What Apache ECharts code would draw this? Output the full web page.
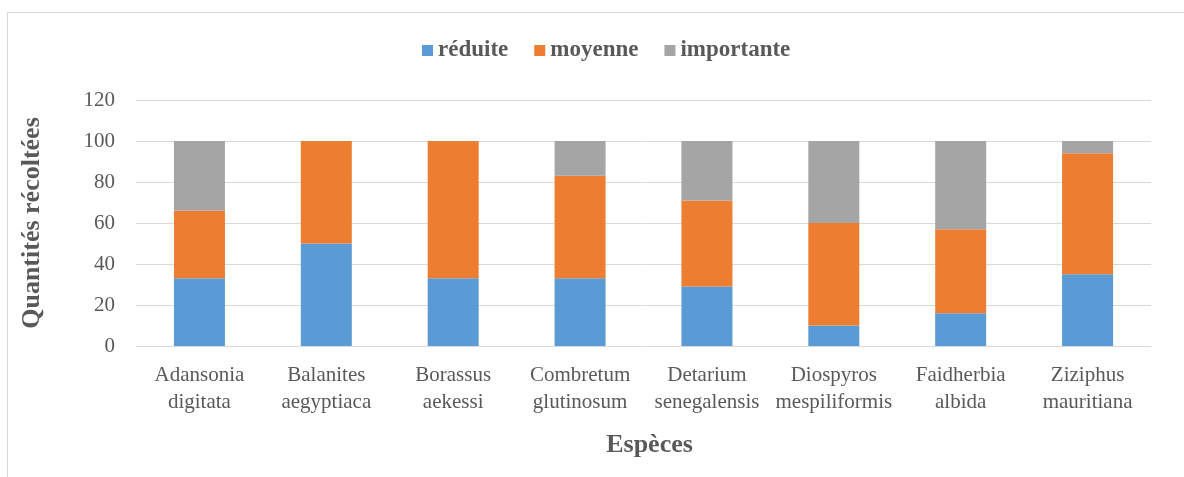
<!DOCTYPE html>
<html>
<head>
<meta charset="utf-8">
<script src="https://cdn.jsdelivr.net/npm/echarts@6/dist/echarts.min.js"></script>
<style>
  html, body { margin: 0; padding: 0; background: #fff; }
  #frame { position: absolute; left: 7px; top: 12px; width: 1190px; height: 480px; border: 1px solid #d9d9d9; box-sizing: border-box; }
  #chart { position: absolute; left: 0; top: 0; width: 1184px; height: 477px; }
</style>
</head>
<body>
<div id="frame"></div>
<div id="chart"></div>
<script>
// species on the x axis
var categories = ["Adansonia\ndigitata", "Balanites\naegyptiaca", "Borassus\naekessi", "Combretum\nglutinosum",
    "Detarium\nsenegalensis", "Diospyros\nmespiliformis", "Faidherbia\nalbida", "Ziziphus\nmauritiana"];
var reduite = [33, 50, 33, 33, 29, 10, 16, 35];
var moyenne = [33, 50, 67, 50, 42, 50, 41, 59];
var importante = [34, 0, 0, 17, 29, 40, 43, 6];
var yTicks = [0, 20, 40, 60, 80, 100, 120];

var font = "'Liberation Serif', 'DejaVu Serif', serif";
var chart = echarts.init(document.getElementById("chart"));

function serie(name, data, color) {
    return {
        name: name,
        type: "bar",
        stack: "total",
        data: data,
        barWidth: 51,
        itemStyle: { color: color },
        emphasis: { disabled: true }
    };
}

chart.setOption({
    animation: false,
    legend: {
        top: 34,
        left: 417,
        itemWidth: 11,
        itemHeight: 11,
        itemGap: 26,
        icon: "rect",
        textStyle: { fontFamily: font, fontSize: 23, fontWeight: "bold", color: "#595959" },
        data: ["réduite", "moyenne", "importante"]
    },
    grid: { left: 136, right: 33, top: 100, bottom: 131 },
    xAxis: {
        type: "category",
        data: categories,
        name: "Espèces",
        nameLocation: "middle",
        nameGap: 86,
        nameTextStyle: { fontFamily: font, fontSize: 26, fontWeight: "bold", color: "#595959", padding: [0, 0, 0, 12] },
        axisLine: { lineStyle: { color: "#d9d9d9" } },
        axisTick: { show: false },
        axisLabel: { fontFamily: font, fontSize: 21, color: "#595959", lineHeight: 27, margin: 16, interval: 0 }
    },
    yAxis: {
        type: "value",
        min: yTicks[0],
        max: yTicks[yTicks.length - 1],
        interval: 20,
        name: "Quantités récoltées",
        nameLocation: "middle",
        nameGap: 91,
        nameTextStyle: { fontFamily: font, fontSize: 26, fontWeight: "bold", color: "#595959" },
        axisLine: { show: false },
        axisTick: { show: false },
        splitLine: { lineStyle: { color: "#d9d9d9" } },
        axisLabel: { fontFamily: font, fontSize: 21, color: "#595959", margin: 21 }
    },
    series: [
        serie("réduite", reduite, "#5b9bd5"),
        serie("moyenne", moyenne, "#ed7d31"),
        serie("importante", importante, "#a5a5a5")
    ]
});
</script>
</body>
</html>
